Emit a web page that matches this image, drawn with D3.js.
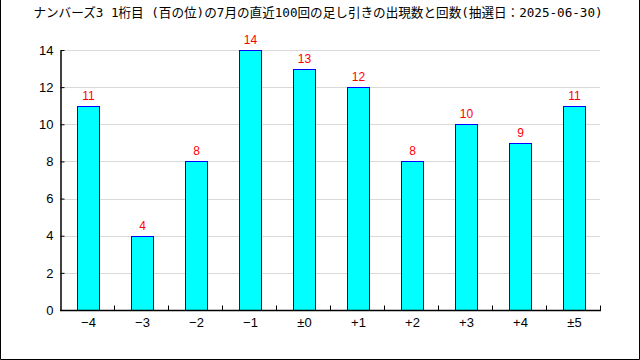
<!DOCTYPE html>
<html>
<head>
<meta charset="utf-8">
<script src="https://cdn.jsdelivr.net/npm/d3@7"></script>
<style>
  body { margin: 0; background: #fff; }
  svg { display: block; }
</style>
</head>
<body>
<svg id="chart"></svg>
<script>
var titleText = 'ナンバーズ3 1桁目 (百の位)の7月の直近100回の足し引きの出現数と回数(抽選日：2025-06-30)'
var categories = ['\u22124', '\u22123', '\u22122', '\u22121', '±0', '+1', '+2', '+3', '+4', '±5']
var counts = [11, 4, 8, 14, 13, 12, 8, 10, 9, 11]
var yTicks = [0, 2, 4, 6, 8, 10, 12, 14]

var width = 640, height = 360
var plotLeft = 61, plotRight = 601, plotTop = 50, plotBottom = 310

var svg = d3.select('#chart')
    .attr('width', width)
    .attr('height', height)

// frame
svg.append('path')
    .attr('d', 'M0.5,0 V359.5 H639.5 V0')
    .attr('fill', 'none')
    .attr('stroke', '#000')

svg.append('text')
    .attr('x', 318)
    .attr('y', 17)
    .attr('text-anchor', 'middle')
    .attr('font-family', '"DejaVu Sans Mono", "Noto Sans CJK JP", sans-serif')
    .attr('font-size', 12.6)
    .attr('fill', '#000')
    .text(titleText)

var xScale = d3.scaleBand()
    .domain(categories)
    .range([plotLeft, plotRight])
    .paddingInner(0.59)
    .paddingOuter(0.295)

var yScale = d3.scaleLinear()
    .domain([0, 14])
    .range([plotBottom, plotTop])

// grid
svg.append('g')
    .selectAll('line')
    .data(yTicks.slice(1))
    .enter()
    .append('line')
    .attr('x1', plotLeft)
    .attr('x2', plotRight - 1)
    .attr('y1', function (d) { return Math.round(yScale(d)) + 0.5 })
    .attr('y2', function (d) { return Math.round(yScale(d)) + 0.5 })
    .attr('stroke', '#d9d9d9')

// bars
svg.append('g')
    .selectAll('rect')
    .data(counts)
    .enter()
    .append('rect')
    .attr('x', function (d, i) { return Math.round(xScale(categories[i])) + 0.5 })
    .attr('y', function (d) { return Math.round(yScale(d)) + 0.5 })
    .attr('width', Math.round(xScale.bandwidth()))
    .attr('height', function (d) { return Math.round(yScale(0)) - Math.round(yScale(d)) })
    .attr('fill', '#00ffff')
    .attr('stroke', '#0000ff')

// value labels
svg.append('g')
    .selectAll('text')
    .data(counts)
    .enter()
    .append('text')
    .attr('x', function (d, i) { return xScale(categories[i]) + xScale.bandwidth() / 2 + 0.5 })
    .attr('y', function (d) { return yScale(d) - 6 })
    .attr('text-anchor', 'middle')
    .attr('font-family', '"Liberation Sans", Arial, sans-serif')
    .attr('font-size', 12)
    .attr('fill', '#ff0000')
    .text(function (d) { return d })

// y axis
var yAxis = d3.axisLeft(yScale)
    .tickValues(yTicks)
    .tickSizeInner(-4)
    .tickSizeOuter(0)
    .tickPadding(7)

var yG = svg.append('g')
    .attr('transform', 'translate(' + (plotLeft - 0.5) + ',0)')
    .call(yAxis)
yG.select('.domain').attr('stroke', '#000').attr('stroke-width', 1.5)
yG.selectAll('text')
    .attr('font-family', '"Liberation Sans", Arial, sans-serif')
    .attr('font-size', 13)
    .attr('fill', '#000')

// x axis: ticks on band boundaries
var xG = svg.append('g')
    .attr('transform', 'translate(0,' + (plotBottom + 0.5) + ')')
xG.append('line')
    .attr('x1', plotLeft - 1)
    .attr('x2', plotRight)
    .attr('stroke', '#000')
    .attr('stroke-width', 1.5)
var step = xScale.step()
xG.selectAll('.tick')
    .data(categories)
    .enter()
    .append('line')
    .attr('class', 'tick')
    .attr('x1', function (d, i) { return Math.round(plotLeft + step * (i + 1)) - 0.5 })
    .attr('x2', function (d, i) { return Math.round(plotLeft + step * (i + 1)) - 0.5 })
    .attr('y1', 0)
    .attr('y2', -5)
    .attr('stroke', '#000')
xG.selectAll('.lbl')
    .data(categories)
    .enter()
    .append('text')
    .attr('class', 'lbl')
    .attr('x', function (d) { return xScale(d) + xScale.bandwidth() / 2 + 0.5 })
    .attr('y', 16)
    .attr('text-anchor', 'middle')
    .attr('font-family', '"Liberation Sans", Arial, sans-serif')
    .attr('font-size', 13)
    .attr('fill', '#000')
    .text(function (d) { return d })
</script>
</body>
</html>
